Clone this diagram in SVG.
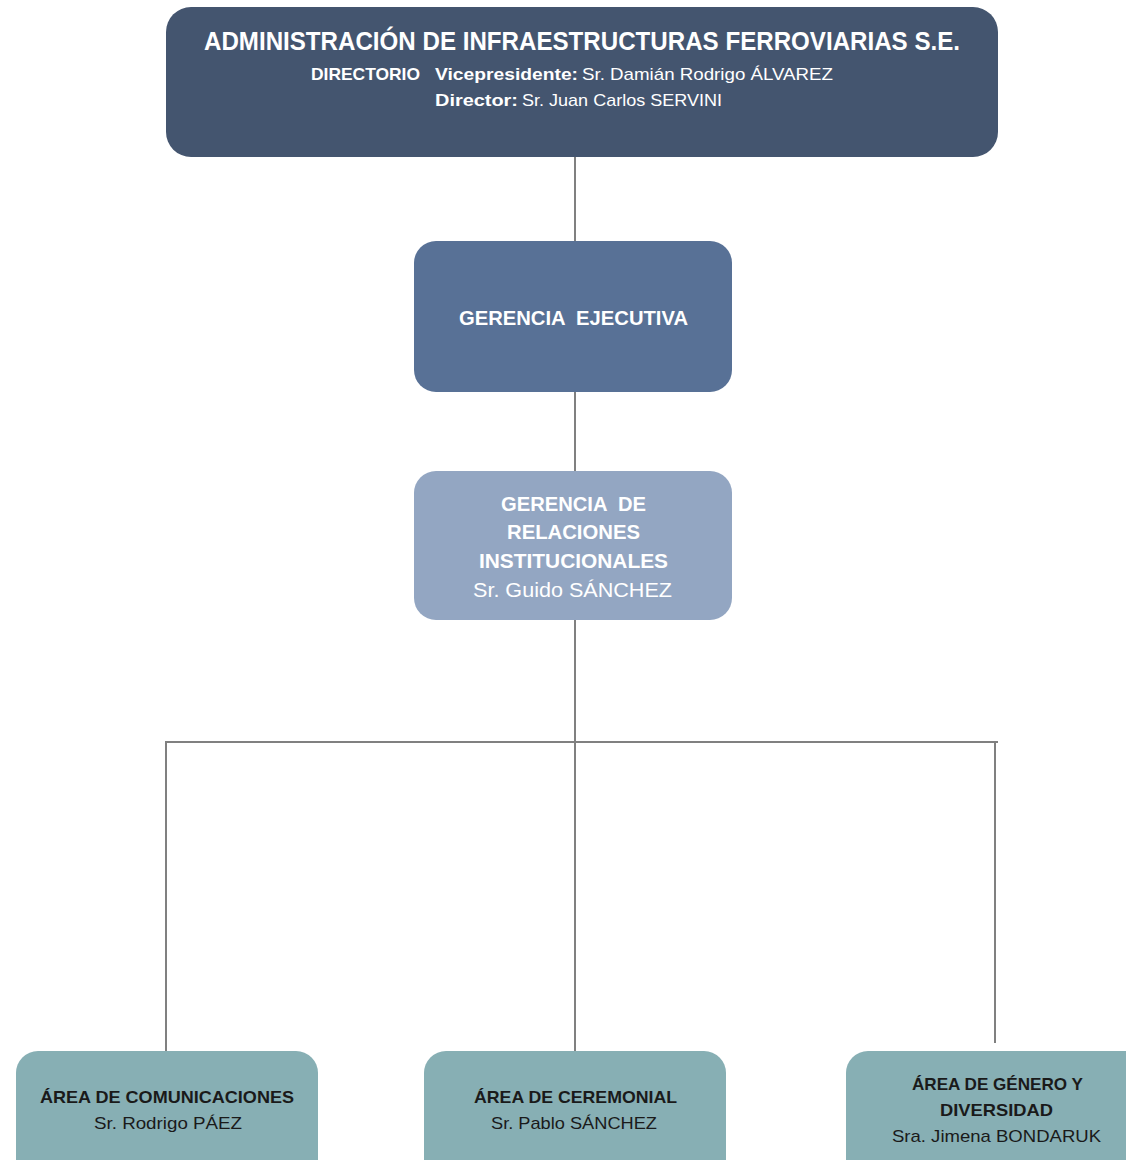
<svg xmlns="http://www.w3.org/2000/svg" width="1126" height="1160" viewBox="0 0 1126 1160">
<style>
text{font-family:"Liberation Sans","Noto Sans",Arial,sans-serif;fill:#ffffff;white-space:pre;}
.b{font-weight:bold;}
.k{fill:#1a1a1a;}
.t{font-size:25px;}
.s{font-size:17px;}
.m{font-size:20px;}
.conn line{stroke:#808080;stroke-width:2;fill:none;}
</style>
<rect width="1126" height="1160" fill="#ffffff"/>
<g class="conn" id="connectors">
<line x1="575" y1="157" x2="575" y2="241"/>
<line x1="575" y1="392" x2="575" y2="471"/>
<line x1="575" y1="620" x2="575" y2="1051"/>
<line x1="165" y1="742" x2="998" y2="742"/>
<line x1="166" y1="742" x2="166" y2="1051"/>
<line x1="995" y1="742" x2="995" y2="1043"/>
</g>
<g id="directorio">
<rect x="166" y="7" width="832" height="150" rx="25" fill="#44556F"/>
<text class="b t" x="204" y="50" textLength="756" lengthAdjust="spacingAndGlyphs">ADMINISTRACIÓN DE INFRAESTRUCTURAS FERROVIARIAS S.E.</text>
<text class="b s" x="311" y="80" textLength="109" lengthAdjust="spacingAndGlyphs">DIRECTORIO</text>
<text class="b s" x="435" y="80" textLength="143" lengthAdjust="spacingAndGlyphs">Vicepresidente:</text>
<text class="s" x="582" y="80" textLength="251" lengthAdjust="spacingAndGlyphs">Sr. Damián Rodrigo ÁLVAREZ</text>
<text class="b s" x="435" y="106" textLength="83" lengthAdjust="spacingAndGlyphs">Director:</text>
<text class="s" x="522" y="106" textLength="200" lengthAdjust="spacingAndGlyphs">Sr. Juan Carlos SERVINI</text>
</g>
<g id="gerencia-ejecutiva">
<rect x="414" y="241" width="318" height="151" rx="22" fill="#587196"/>
<text class="b m" x="459" y="325" textLength="229" lengthAdjust="spacingAndGlyphs" xml:space="preserve">GERENCIA  EJECUTIVA</text>
</g>
<g id="gerencia-rrii">
<rect x="414" y="471" width="318" height="149" rx="22" fill="#93A6C2"/>
<text class="b m" x="501" y="511" textLength="145" lengthAdjust="spacingAndGlyphs" xml:space="preserve">GERENCIA  DE</text>
<text class="b m" x="507" y="539" textLength="133" lengthAdjust="spacingAndGlyphs">RELACIONES</text>
<text class="b m" x="479" y="568" textLength="189" lengthAdjust="spacingAndGlyphs">INSTITUCIONALES</text>
<text class="m" x="473" y="597" textLength="199" lengthAdjust="spacingAndGlyphs">Sr. Guido SÁNCHEZ</text>
</g>
<g id="area-comunicaciones">
<rect x="16" y="1051" width="302" height="140" rx="22" fill="#87AFB4"/>
<text class="b s k" x="40" y="1103" textLength="254" lengthAdjust="spacingAndGlyphs">ÁREA DE COMUNICACIONES</text>
<text class="s k" x="94" y="1129" textLength="148" lengthAdjust="spacingAndGlyphs">Sr. Rodrigo PÁEZ</text>
</g>
<g id="area-ceremonial">
<rect x="424" y="1051" width="302" height="140" rx="22" fill="#87AFB4"/>
<text class="b s k" x="474" y="1103" textLength="203" lengthAdjust="spacingAndGlyphs">ÁREA DE CEREMONIAL</text>
<text class="s k" x="491" y="1129" textLength="166" lengthAdjust="spacingAndGlyphs">Sr. Pablo SÁNCHEZ</text>
</g>
<g id="area-genero">
<rect x="846" y="1051" width="302" height="140" rx="22" fill="#87AFB4"/>
<text class="b s k" x="912" y="1090" textLength="171" lengthAdjust="spacingAndGlyphs">ÁREA DE GÉNERO Y</text>
<text class="b s k" x="940" y="1116" textLength="113" lengthAdjust="spacingAndGlyphs">DIVERSIDAD</text>
<text class="s k" x="892" y="1142" textLength="209" lengthAdjust="spacingAndGlyphs">Sra. Jimena BONDARUK</text>
</g>
</svg>
